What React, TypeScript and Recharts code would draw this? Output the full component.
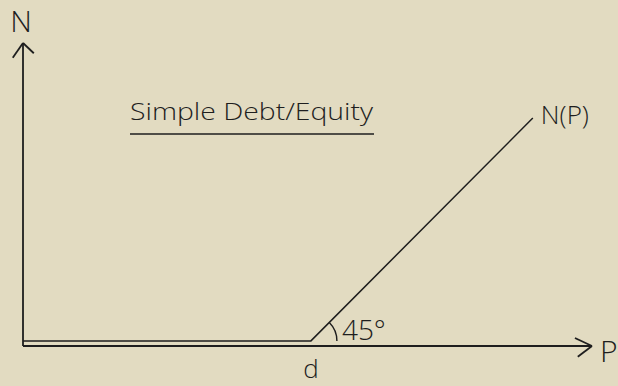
import React from 'react';
import {
  ComposedChart,
  Line,
  XAxis,
  YAxis,
  ReferenceLine,
  ReferenceDot,
  Customized,
} from 'recharts';

// Payoff sketch: N(P) = max(P - d, 0)
const P_VALUES = [0, 5.06, 8.96];
const N_VALUES = [0.09, 0.09, 4.01];
const D_VALUE = 5.06;
const X_MAX = 10;
const Y_MAX = 5.33;
const TITLE = 'Simple Debt/Equity';
const CURVE_LABEL = 'N(P)';
const X_LABEL = 'P';
const Y_LABEL = 'N';
const D_LABEL = 'd';
const ANGLE_LABEL = '45°';

const data = P_VALUES.map((p, i) => ({ P: p, N: N_VALUES[i] }));

const INK = '#1e1e1e';
const BG = '#e2dbc1';
const FONT = '"Open Sans", "DejaVu Sans", sans-serif';

const textAt = (label: string, dx: number, dy: number, size: number, anchor = 'start') =>
  (props: any) => (
    <text
      x={props.cx + dx}
      y={props.cy + dy}
      fontSize={size}
      fontFamily={FONT}
      fontWeight={300}
      fill={INK}
      textAnchor={anchor}
    >
      {label}
    </text>
  );

const angleMark = (props: any) => {
  const r = 26;
  const cx = props.cx;
  const cy = props.cy;
  const a = Math.PI / 4;
  const x1 = cx + r * Math.cos(a);
  const y1 = cy - r * Math.sin(a);
  return (
    <g>
      <path
        d={`M ${x1} ${y1} A ${r} ${r} 0 0 1 ${cx + r} ${cy}`}
        fill="none"
        stroke={INK}
        strokeWidth={1.4}
      />
      <text
        x={cx + 31}
        y={cy - 1}
        fontSize={28}
        fontFamily={FONT}
        fontWeight={300}
        fill={INK}
      >
        {ANGLE_LABEL}
      </text>
    </g>
  );
};

const Title = () => (
  <g>
    <text
      x={130}
      y={120}
      fontSize={24}
      fontFamily={FONT}
      fontWeight={300}
      fill={INK}
      textLength={243}
      lengthAdjust="spacingAndGlyphs"
    >
      {TITLE}
    </text>
    <line x1={130} y1={134} x2={374} y2={134} stroke={INK} strokeWidth={1.5} />
  </g>
);

export default function App() {
  return (
    <div
      style={{
        position: 'absolute',
        left: 0,
        top: 0,
        width: 618,
        height: 386,
        background: BG,
      }}
    >
      <ComposedChart
        width={618}
        height={386}
        data={data}
        margin={{ top: 43, right: 26, bottom: 39, left: 22 }}
      >
        <XAxis
          type="number"
          dataKey="P"
          domain={[0, X_MAX]}
          ticks={[D_VALUE]}
          tickFormatter={() => D_LABEL}
          tickLine={false}
          tickSize={0}
          tickMargin={14}
          height={1}
          axisLine={{ stroke: INK, strokeWidth: 1.8 }}
          tick={{ fill: INK, fontSize: 26, fontFamily: FONT, fontWeight: 300 }}
          allowDataOverflow
        />
        <YAxis
          type="number"
          domain={[0, Y_MAX]}
          width={1}
          tick={false}
          tickLine={false}
          axisLine={{ stroke: INK, strokeWidth: 1.8 }}
          allowDataOverflow
        />
        {/* arrow heads */}
        <ReferenceLine
          segment={[{ x: X_MAX - 0.3, y: 0.14 }, { x: X_MAX, y: 0 }]}
          stroke={INK}
          strokeWidth={1.8}
          ifOverflow="visible"
        />
        <ReferenceLine
          segment={[{ x: X_MAX - 0.25, y: -0.19 }, { x: X_MAX, y: 0 }]}
          stroke={INK}
          strokeWidth={1.8}
          ifOverflow="visible"
        />
        <ReferenceLine
          segment={[{ x: -0.18, y: Y_MAX - 0.26 }, { x: 0, y: Y_MAX }]}
          stroke={INK}
          strokeWidth={1.8}
          ifOverflow="visible"
        />
        <ReferenceLine
          segment={[{ x: 0.19, y: Y_MAX - 0.18 }, { x: 0, y: Y_MAX }]}
          stroke={INK}
          strokeWidth={1.8}
          ifOverflow="visible"
        />
        <Line
          type="linear"
          dataKey="N"
          stroke={INK}
          strokeWidth={1.5}
          dot={false}
          activeDot={false}
          isAnimationActive={false}
        />
        <ReferenceDot x={0} y={Y_MAX} r={0} ifOverflow="visible" shape={textAt(Y_LABEL, -2, -11, 30, 'middle')} />
        <ReferenceDot x={X_MAX} y={0} r={0} ifOverflow="visible" shape={textAt(X_LABEL, 8, 16, 30)} />
        <ReferenceDot
          x={P_VALUES[2]}
          y={N_VALUES[2]}
          r={0}
          ifOverflow="visible"
          shape={textAt(CURVE_LABEL, 8, 6, 26)}
        />
        <ReferenceDot x={D_VALUE} y={N_VALUES[1]} r={0} ifOverflow="visible" shape={angleMark} />
        <Customized component={Title} />
      </ComposedChart>
    </div>
  );
}
